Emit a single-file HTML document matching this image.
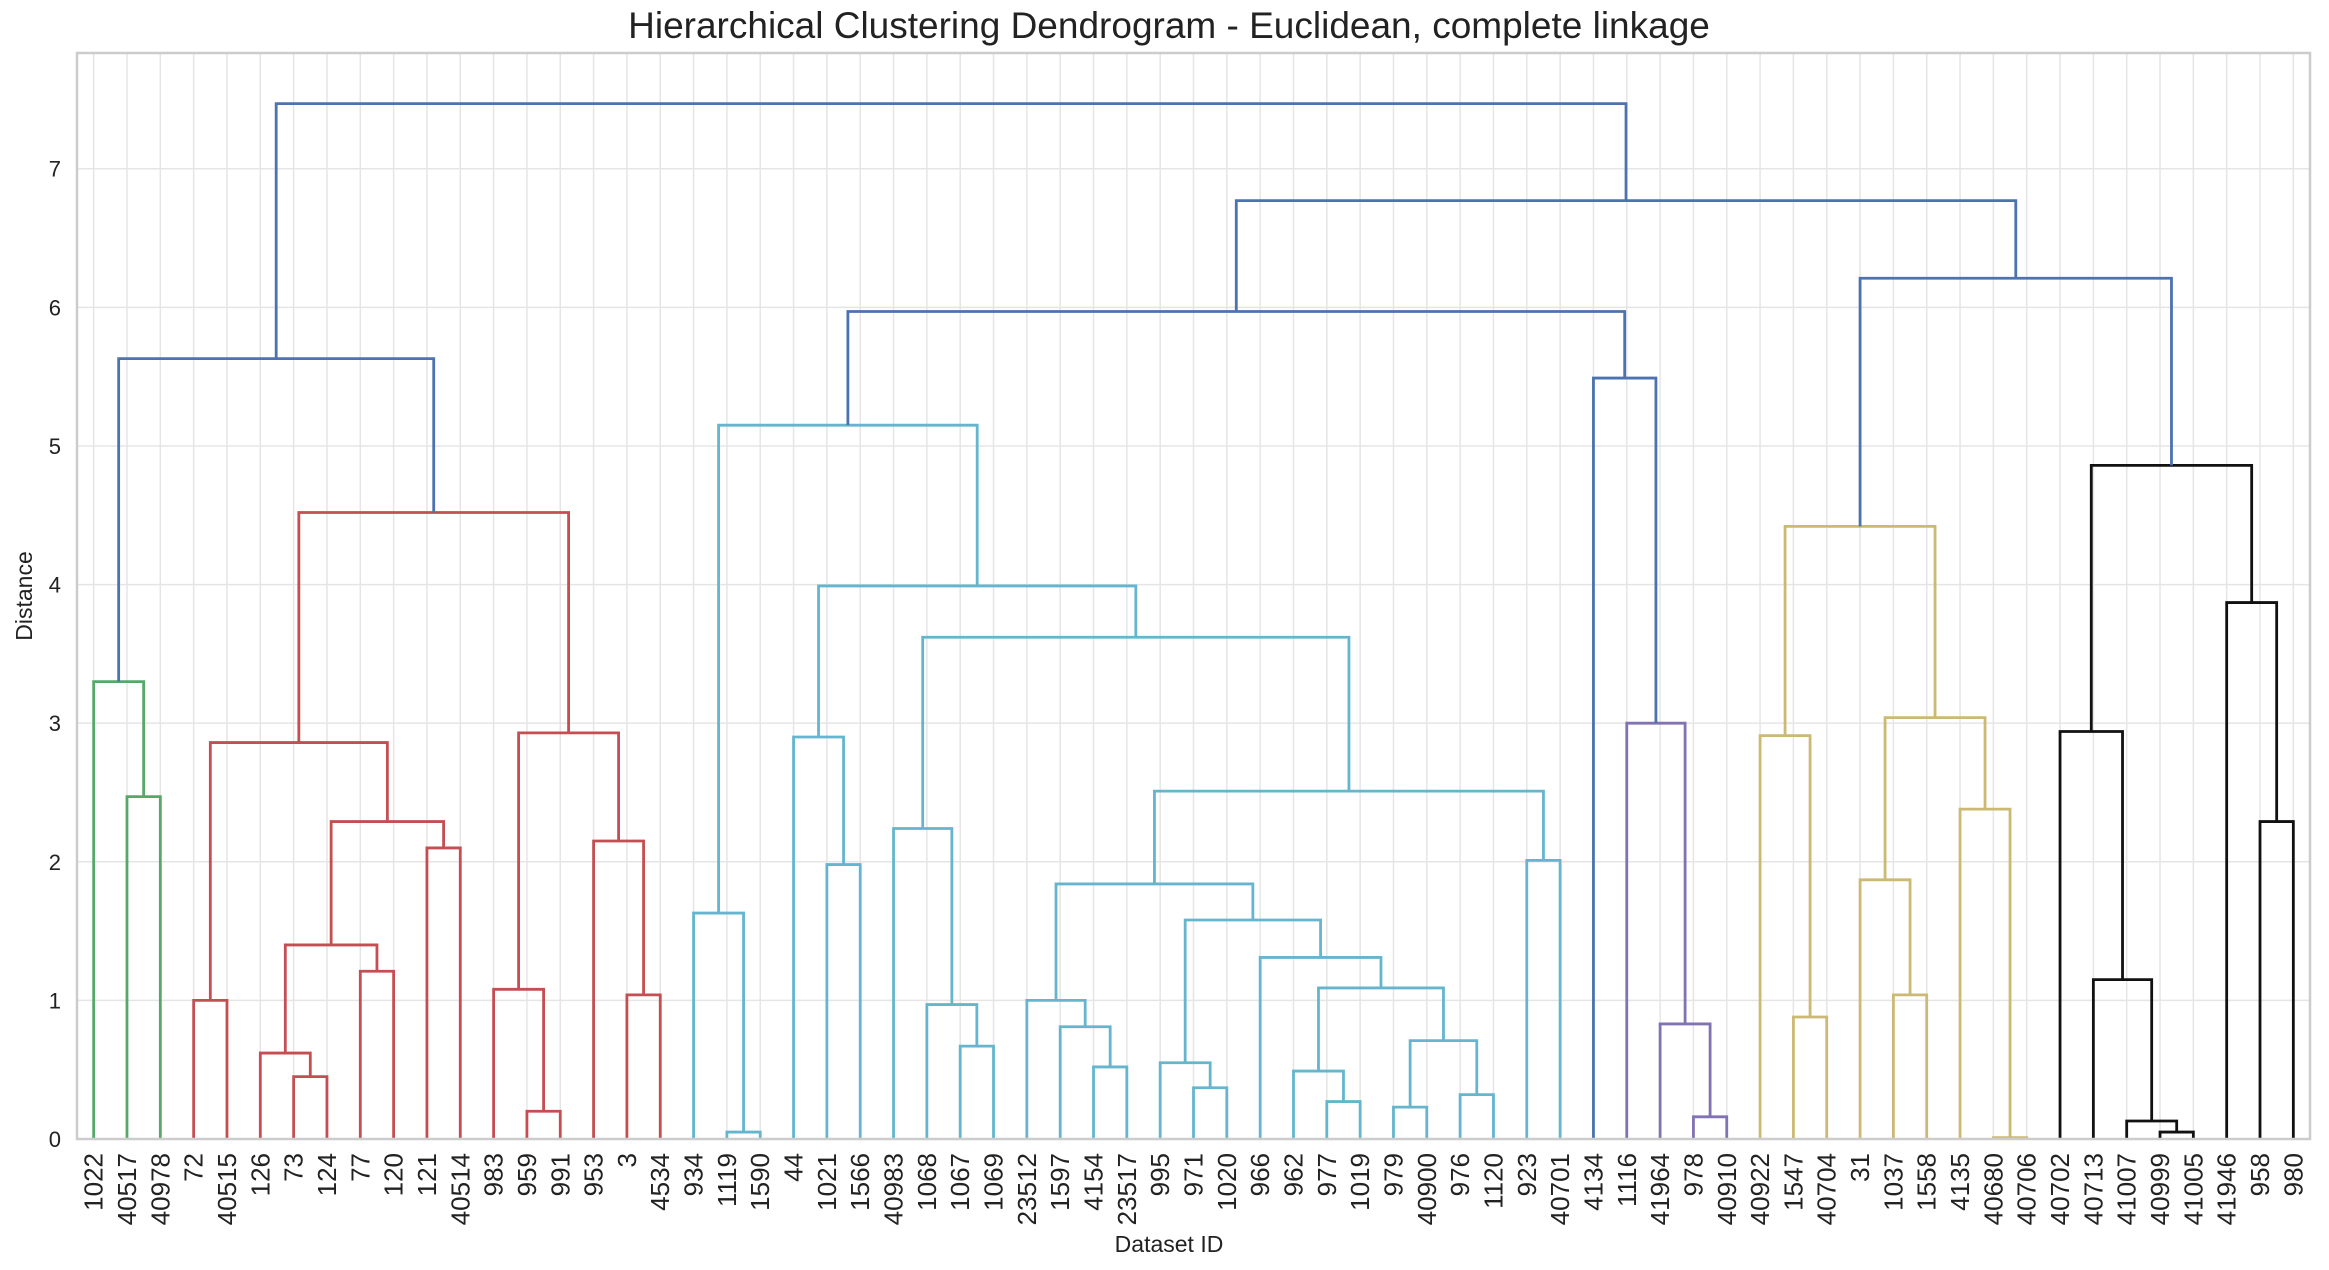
<!DOCTYPE html>
<html><head><meta charset="utf-8"><style>
html,body{margin:0;padding:0;background:#fff;}
svg{display:block;font-family:"Liberation Sans",Arial,sans-serif;}
</style></head><body>
<svg id="chart" width="2329" height="1270" viewBox="0 0 2329 1270">
<text x="1169" y="38" text-anchor="middle" font-size="37" fill="#222">Hierarchical Clustering Dendrogram - Euclidean, complete linkage</text>
<g id="grid"></g>
<g id="links"></g>
<rect x="77" y="53" width="2233" height="1086" fill="none" stroke="#cccccc" stroke-width="2.5"/>
<g id="yticks"></g>
<g id="xticks"></g>
<text x="1169" y="1252" text-anchor="middle" font-size="23" fill="#222">Dataset ID</text>
<text transform="translate(32,596) rotate(-90)" text-anchor="middle" font-size="23" fill="#222">Distance</text>
</svg>
<script>
const leafLabels = ["1022","40517","40978","72","40515","126","73","124","77","120","121","40514","983","959","991","953","3","4534","934","1119","1590","44","1021","1566","40983","1068","1067","1069","23512","1597","4154","23517","995","971","1020","966","962","977","1019","979","40900","976","1120","923","40701","4134","1116","41964","978","40910","40922","1547","40704","31","1037","1558","4135","40680","40706","40702","40713","41007","40999","41005","41946","958","980"];
const mergeLeft =  [1,0,3,6,5,8,71,10,73,69,13,12,16,15,78,76,68,19,18,22,21,26,25,24,30,29,28,33,32,37,36,39,41,98,97,35,95,93,43,104,90,87,85,48,47,46,45,109,51,50,54,53,57,56,118,116,62,61,60,59,65,64,126,122,114,83];
const mergeRight = [2,67,4,7,70,9,72,11,74,75,14,77,17,79,80,81,82,20,84,23,86,27,88,89,31,91,92,34,94,38,96,40,42,99,100,101,102,103,44,105,106,107,108,49,110,111,112,113,52,115,55,117,58,119,120,121,63,123,124,125,66,127,128,129,130,131];
const mergeHeights = [2.47,3.30,1.00,0.45,0.62,1.21,1.40,2.10,2.29,2.86,0.20,1.08,1.04,2.15,2.93,4.52,5.63,0.05,1.63,1.98,2.90,0.67,0.97,2.24,0.52,0.81,1.00,0.37,0.55,0.27,0.49,0.23,0.32,0.71,1.09,1.31,1.58,1.84,2.01,2.51,3.62,3.99,5.15,0.16,0.83,3.00,5.49,5.97,0.88,2.91,1.04,1.87,0.01,2.38,3.04,4.42,0.05,0.13,1.15,2.94,2.29,3.87,4.86,6.21,6.77,7.47];
const mergeColors = ["g","g","r","r","r","r","r","r","r","r","r","r","r","r","r","r","b","c","c","c","c","c","c","c","c","c","c","c","c","c","c","c","c","c","c","c","c","c","c","c","c","c","c","p","p","p","b","b","y","y","y","y","y","y","y","y","k","k","k","k","k","k","k","b","b","b"];
const yTicks = [0,1,2,3,4,5,6,7];

const palette = {g:"#55a868",r:"#c44e52",b:"#4c72b0",c:"#64b5cd",p:"#8172b2",y:"#ccb974",k:"#111111"};
const NS = "http://www.w3.org/2000/svg";
const L = 77, R = 2310, T = 53, B = 1139, YMAX = 7.835;
const n = leafLabels.length;
function xScale(i){ return L + (5 + 10*i) * (R - L) / (10*n); }
function yScale(v){ return B - v * (B - T) / YMAX; }

const grid = document.getElementById('grid');
const yt = document.getElementById('yticks');
const xt = document.getElementById('xticks');
const links = document.getElementById('links');

yTicks.forEach(function(v){
  const ln = document.createElementNS(NS,'line');
  ln.setAttribute('x1',L); ln.setAttribute('x2',R);
  ln.setAttribute('y1',yScale(v)); ln.setAttribute('y2',yScale(v));
  ln.setAttribute('stroke','#e5e5e5'); ln.setAttribute('stroke-width','1.5');
  
  
  grid.appendChild(ln);
  const t = document.createElementNS(NS,'text');
  t.setAttribute('x', L-16); t.setAttribute('y', yScale(v)+8);
  t.setAttribute('text-anchor','end'); t.setAttribute('font-size','22'); t.setAttribute('fill','#222');
  t.textContent = v;
  
  
  yt.appendChild(t);
});

leafLabels.forEach(function(lab,i){
  const x = xScale(i);
  const ln = document.createElementNS(NS,'line');
  ln.setAttribute('x1',x); ln.setAttribute('x2',x);
  ln.setAttribute('y1',T); ln.setAttribute('y2',B);
  ln.setAttribute('stroke','#e5e5e5'); ln.setAttribute('stroke-width','1.5');
  
  
  grid.appendChild(ln);
  const t = document.createElementNS(NS,'text');
  t.setAttribute('transform','translate('+(x+9)+','+(B+14)+') rotate(-90)');
  t.setAttribute('text-anchor','end'); t.setAttribute('font-size','26'); t.setAttribute('fill','#222');
  t.textContent = lab;
  
  
  xt.appendChild(t);
});

const nodeX = [], nodeY = [];
for (let i=0;i<n;i++){ nodeX.push(xScale(i)); nodeY.push(yScale(0)); }
for (let k=0;k<mergeLeft.length;k++){
  const a = mergeLeft[k], b = mergeRight[k];
  const xa = nodeX[a], xb = nodeX[b], ya = nodeY[a], yb = nodeY[b];
  const yh = yScale(mergeHeights[k]);
  const p = document.createElementNS(NS,'path');
  p.setAttribute('d','M'+xa+','+ya+'V'+yh+'H'+xb+'V'+yb);
  p.setAttribute('fill','none');
  p.setAttribute('stroke', palette[mergeColors[k]]);
  p.setAttribute('stroke-width','2.8');
  
  
  links.appendChild(p);
  nodeX.push((xa+xb)/2); nodeY.push(yh);
}
</script>
</body></html>
